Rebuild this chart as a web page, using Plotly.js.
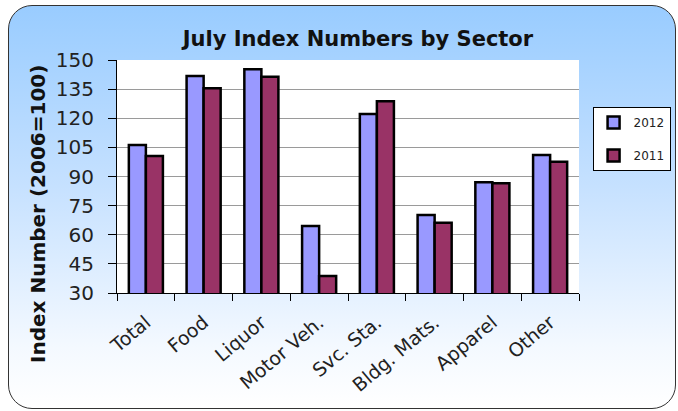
<!DOCTYPE html>
<html>
<head>
<meta charset="utf-8">
<script src="https://cdn.plot.ly/plotly-3.0.1.min.js"></script>
<style>
    body { margin: 0; padding: 0; background: #ffffff; }
    #wrap { position: relative; width: 678px; height: 411px; }
    #fondo {
        position: absolute; left: 8px; top: 5px; width: 666px; height: 402px;
        border: 1px solid #333; border-radius: 24px;
        background: linear-gradient(to bottom, #99ccff 0%, #c6e1ff 45%, #f4f9ff 85%, #ffffff 100%);
    }
    #grafico { position: absolute; left: 0; top: 0; width: 678px; height: 411px; }
</style>
</head>
<body>
<div id="wrap">
    <div id="fondo"></div>
    <div id="grafico"></div>
</div>
<script>
    // Sectores y valores del indice (2006=100)
    const sectores = ['Total', 'Food', 'Liquor', 'Motor Veh.', 'Svc. Sta.', 'Bldg. Mats.', 'Apparel', 'Other'];
    const valores2012 = [106.2, 141.7, 145.2, 64.5, 122.2, 70.2, 87.0, 101.1];
    const valores2011 = [100.5, 135.4, 141.4, 38.8, 128.7, 66.2, 86.5, 97.6];
    const ticksY = [30, 45, 60, 75, 90, 105, 120, 135, 150];

    const fuente = 'DejaVu Sans, Arial, sans-serif';

    const trace2012 = {
        x: sectores,
        y: valores2012,
        type: 'bar',
        name: '2012',
        legendgroup: 'a',
        marker: { color: '#9999ff', line: { color: '#000000', width: 2.5 } }
    };

    const trace2011 = {
        x: sectores,
        y: valores2011,
        type: 'bar',
        name: '2011',
        legendgroup: 'b',
        marker: { color: '#993366', line: { color: '#000000', width: 2.5 } }
    };

    const layout = {
        width: 678,
        height: 411,
        margin: { l: 117, r: 99, t: 60, b: 118, autoexpand: false },
        paper_bgcolor: 'rgba(0,0,0,0)',
        plot_bgcolor: '#ffffff',
        barmode: 'group',
        bargap: 0.41,
        bargroupgap: 0,
        title: {
            text: '<b>July Index Numbers by Sector</b>',
            font: { family: fuente, size: 21, color: '#111111' },
            x: 0.528,
            xanchor: 'center',
            y: 0.907,
            yanchor: 'middle'
        },
        xaxis: {
            type: 'category',
            tickson: 'boundaries',
            ticks: 'outside',
            ticklen: 7,
            tickcolor: '#000000',
            tickangle: -40,
            ticklabelstandoff: 10,
            tickfont: { family: fuente, size: 19, color: '#222222' },
            showline: true,
            linecolor: '#000000',
            linewidth: 1,
            showgrid: false,
            fixedrange: true
        },
        yaxis: {
            range: [30, 150],
            tickvals: ticksY,
            ticks: 'outside',
            ticklen: 8,
            tickcolor: '#000000',
            ticklabelstandoff: 10,
            tickfont: { family: fuente, size: 20, color: '#222222' },
            showline: true,
            linecolor: '#000000',
            linewidth: 1,
            showgrid: true,
            gridcolor: '#9a9a9a',
            gridwidth: 1,
            zeroline: false,
            fixedrange: true
        },
        showlegend: true,
        legend: {
            xref: 'container',
            yref: 'container',
            x: 0.874,
            xanchor: 'left',
            y: 0.7397,
            yanchor: 'top',
            bgcolor: '#ffffff',
            bordercolor: '#000000',
            borderwidth: 1,
            tracegroupgap: 14,
            font: { family: fuente, size: 12, color: '#222222' }
        },
        annotations: [{
            text: '<b>Index Number (2006=100)</b>',
            textangle: -90,
            xref: 'paper',
            yref: 'paper',
            x: -0.1710,
            y: 0.339,
            xanchor: 'center',
            yanchor: 'middle',
            showarrow: false,
            font: { family: fuente, size: 20, color: '#111111' }
        }]
    };

    Plotly.newPlot('grafico', [trace2012, trace2011], layout, { displayModeBar: false, staticPlot: true });
</script>
</body>
</html>
